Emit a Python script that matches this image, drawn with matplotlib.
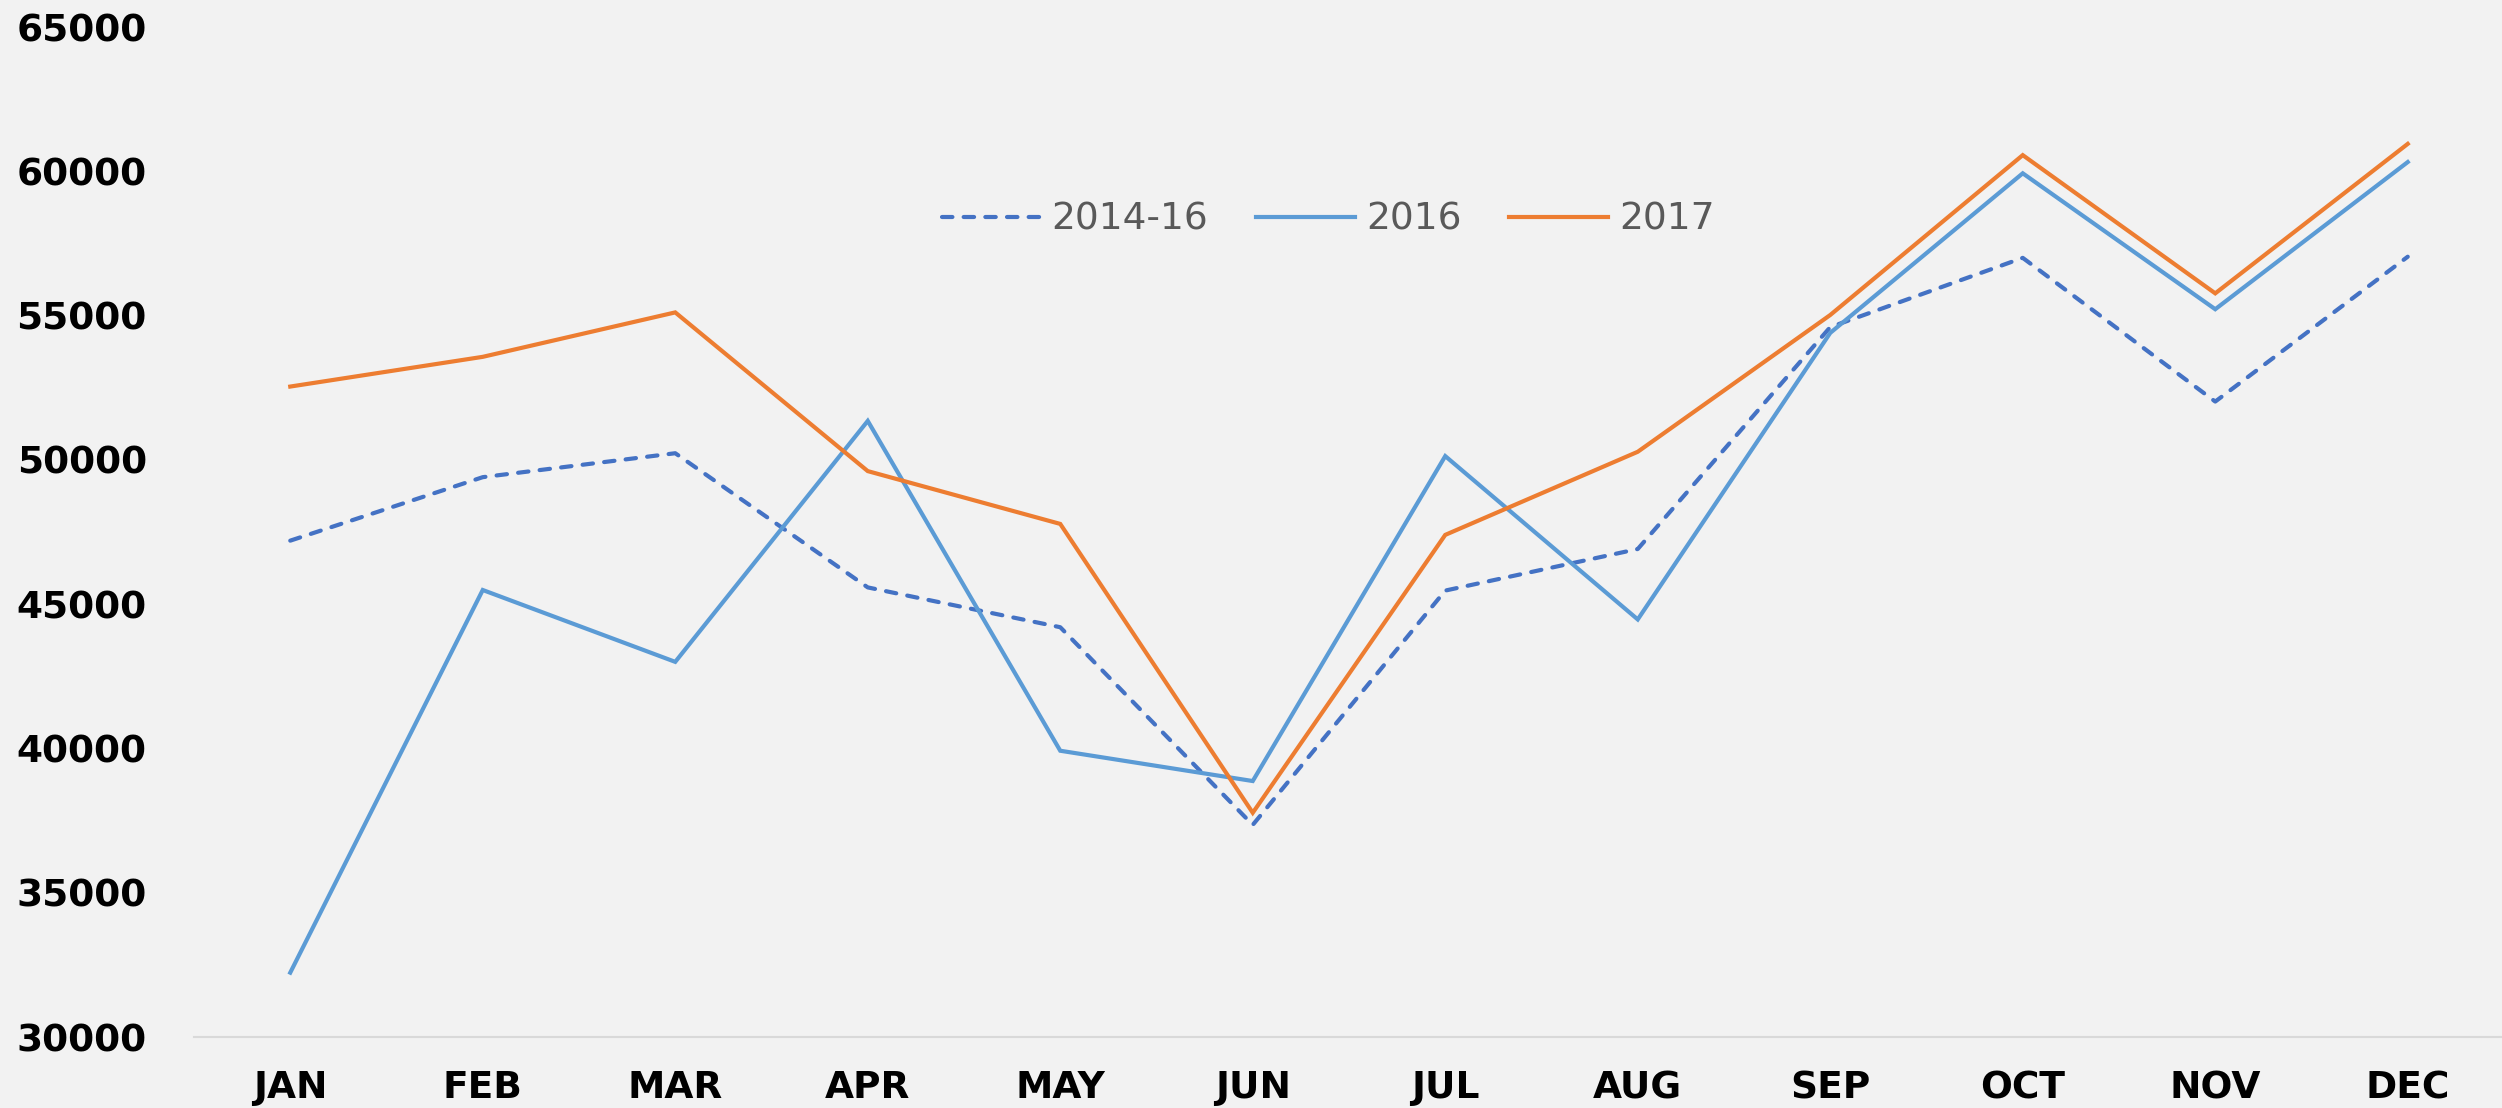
import matplotlib.pyplot as plt

months = ['JAN', 'FEB', 'MAR', 'APR', 'MAY', 'JUN', 'JUL', 'AUG', 'SEP', 'OCT', 'NOV', 'DEC']
avg_2014_16 = [47200, 49400, 50230, 45580, 44200, 37350, 45470, 46910, 54600, 57000, 52020, 57040]
y2016 = [32230, 45490, 43000, 51350, 39920, 38870, 50130, 44470, 54400, 59930, 55220, 60320]
y2017 = [52540, 53570, 55110, 49610, 47780, 37770, 47400, 50280, 55020, 60560, 55770, 60950]
yticks = [30000, 35000, 40000, 45000, 50000, 55000, 60000, 65000]

bg = '#F2F2F2'
fig = plt.figure(figsize=(25.02, 11.08), dpi=100, facecolor=bg)
ax = fig.add_axes([194 / 2502, 71 / 1108, 2310 / 2502, 1010 / 1108], facecolor=bg)

x = range(len(months))
ax.plot(x, avg_2014_16, color='#4472C4', lw=3, ls=(0, (2.5, 2.7)),
        dash_capstyle='round', solid_joinstyle='miter', label='2014-16')
ax.plot(x, y2016, color='#5B9BD5', lw=3, solid_joinstyle='miter', label='2016')
ax.plot(x, y2017, color='#ED7D31', lw=3, solid_joinstyle='miter', label='2017')

ax.set_xlim(-0.5, 11.5)
ax.set_ylim(30000, 65000)
ax.set_xticks(list(x))
ax.set_xticklabels(months)
ax.set_yticks(yticks)
ax.set_yticklabels([str(v) for v in yticks])

for s in ['left', 'right', 'top']:
    ax.spines[s].set_visible(False)
ax.spines['bottom'].set_color('#D9D9D9')
ax.spines['bottom'].set_linewidth(1.5)
ax.tick_params(axis='both', length=0, labelsize=27, labelcolor='black')
ax.tick_params(axis='y', pad=34)
ax.tick_params(axis='x', pad=24)
for lab in ax.get_xticklabels() + ax.get_yticklabels():
    lab.set_fontweight('bold')

# legend sits inside the plot, near the top
leg = ax.legend(loc='center', bbox_to_anchor=(0.491, 0.809), ncol=3, frameon=False,
                fontsize=27, handlelength=2.64, handletextpad=0.28, columnspacing=1.28)
for t in leg.get_texts():
    t.set_color('#595959')

fig.savefig('out.png', dpi=100, facecolor=bg)
